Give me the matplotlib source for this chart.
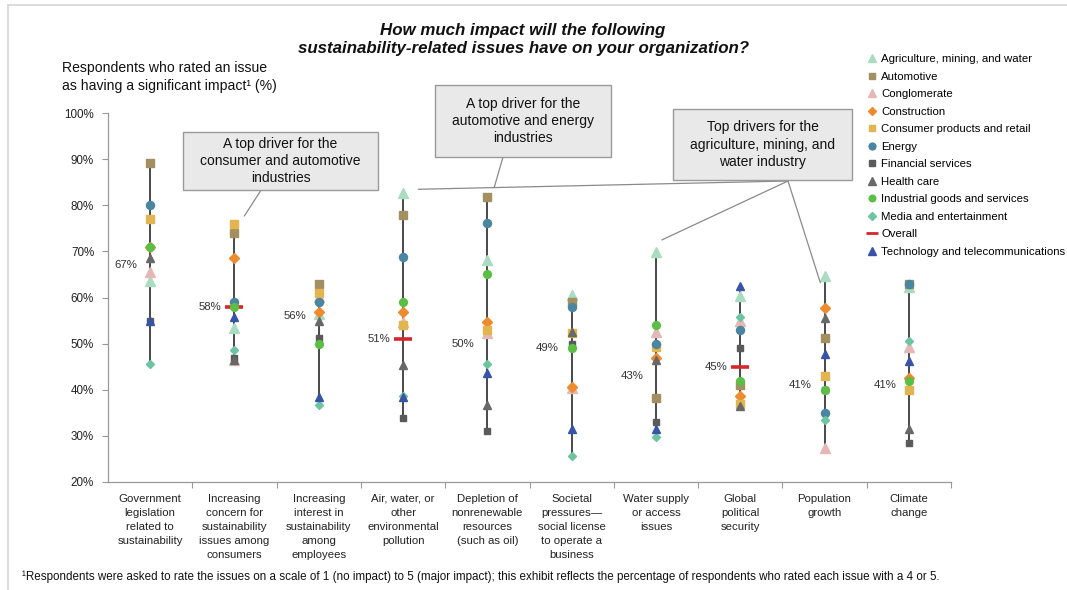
import matplotlib
matplotlib.use("Agg")
import matplotlib.pyplot as plt
from matplotlib.patches import Rectangle
from matplotlib.lines import Line2D
import numpy as np

plt.rcParams['font.family'] = ['Liberation Sans', 'DejaVu Sans']

# ---- data -------------------------------------------------------------
categories = [
    "Government\nlegislation\nrelated to\nsustainability",
    "Increasing\nconcern for\nsustainability\nissues among\nconsumers",
    "Increasing\ninterest in\nsustainability\namong\nemployees",
    "Air, water, or\nother\nenvironmental\npollution",
    "Depletion of\nnonrenewable\nresources\n(such as oil)",
    "Societal\npressures\u2014\nsocial license\nto operate a\nbusiness",
    "Water supply\nor access\nissues",
    "Global\npolitical\nsecurity",
    "Population\ngrowth",
    "Climate\nchange",
]

agriculture = [63.6, 53.3, 56.4, 82.7, 68.2, 60.6, 69.9, 60.4, 64.6, 62.3]
automotive = [89.1, 74.1, 63.0, 78.0, 81.9, 59.0, 38.2, 41.0, 51.1, 63.0]
conglomerate = [65.5, 46.4, 60.2, 54.6, 52.3, 40.3, 52.4, 55.0, 27.4, 49.2]
construction = [71.0, 68.5, 56.8, 56.8, 54.6, 40.6, 46.8, 38.7, 57.8, 42.6]
consumer = [77.1, 76.0, 60.9, 54.1, 53.0, 52.2, 49.2, 36.8, 42.9, 39.9]
energy = [80.0, 59.0, 59.0, 68.9, 76.1, 58.0, 49.9, 53.0, 35.0, 63.0]
financial = [54.8, 46.9, 51.1, 33.8, 31.0, 49.9, 33.0, 49.0, 39.9, 28.3]
health_care = [68.6, 46.4, 54.8, 45.4, 36.6, 52.4, 46.4, 36.5, 55.6, 31.4]
industrial = [71.0, 57.9, 49.9, 59.0, 65.0, 49.0, 54.0, 41.9, 39.9, 41.9]
media = [45.6, 48.7, 36.6, 38.6, 45.6, 25.6, 29.6, 55.7, 33.4, 50.6]
technology = [54.8, 55.7, 38.4, 38.4, 43.5, 31.4, 31.4, 62.6, 47.7, 46.3]
overall = [67, 58, 56, 51, 50, 49, 43, 45, 41, 41]
overall_marked = [False, True, False, True, False, False, False, True, False, False]

series_names = [
    "Agriculture, mining, and water", "Automotive", "Conglomerate",
    "Construction", "Consumer products and retail", "Energy",
    "Financial services", "Health care", "Industrial goods and services",
    "Media and entertainment", "Technology and telecommunications",
]
series_values = [agriculture, automotive, conglomerate, construction,
                 consumer, energy, financial, health_care, industrial,
                 media, technology]

y_ticks = [20, 30, 40, 50, 60, 70, 80, 90, 100]
y_ticklabels = [f"{v}%" for v in y_ticks]

# ---- styles -----------------------------------------------------------
styles = {
    "Agriculture, mining, and water": dict(marker="^", color="#A9DCC0", ms=6.5),
    "Automotive": dict(marker="s", color="#A38F5F", ms=5.2),
    "Conglomerate": dict(marker="^", color="#E5B8B5", ms=6.5),
    "Construction": dict(marker="D", color="#EE8B2C", ms=4.6),
    "Consumer products and retail": dict(marker="s", color="#E3B550", ms=5.2),
    "Energy": dict(marker="o", color="#4A86A0", ms=5.8),
    "Financial services": dict(marker="s", color="#5A5A5A", ms=5.0),
    "Health care": dict(marker="^", color="#686868", ms=6.0),
    "Industrial goods and services": dict(marker="o", color="#5BBE45", ms=5.6),
    "Media and entertainment": dict(marker="D", color="#6CC4A1", ms=4.4),
    "Technology and telecommunications": dict(marker="^", color="#3754A8", ms=6.0),
}
overall_color = "#D7262B"

W, H = 1067, 590
fig = plt.figure(figsize=(W / 100, H / 100), dpi=100)
fig.patch.set_facecolor("white")

ax_l, ax_r, ax_b, ax_t = 108, 951, 481.7, 113.3
ax = fig.add_axes([ax_l / W, 1 - ax_b / H, (ax_r - ax_l) / W, (ax_b - ax_t) / H])

n = len(categories)
x = np.arange(n)
vals = np.array(series_values)

# vertical range lines
for i in range(n):
    ax.plot([x[i], x[i]], [vals[:, i].min(), vals[:, i].max()],
            color="#3a3a3a", lw=1.3, zorder=1, solid_capstyle="butt")

# overall marks (drawn beneath industry markers)
for i in range(n):
    if overall_marked[i]:
        ax.plot(x[i], overall[i], marker="_", ms=13, mew=2.6,
                color=overall_color, zorder=2, linestyle="none")
    ax.text(x[i] - 0.15, overall[i], f"{overall[i]}%", ha="right",
            va="center", fontsize=8.2, color="#333333")

# industry markers
for k, (name, v) in enumerate(zip(series_names, series_values)):
    st = styles[name]
    ax.plot(x, v, linestyle="none", marker=st["marker"], ms=st["ms"],
            color=st["color"], mec=st["color"], zorder=3 + k)

ax.set_xlim(-0.5, n - 0.5)
ax.set_ylim(20, 100)
ax.set_yticks(y_ticks)
ax.set_yticklabels(y_ticklabels, fontsize=8.4, color="#222222")
ax.set_xticks(x)
ax.set_xticklabels(categories, fontsize=8.2, color="#222222", linespacing=1.5,
                   va="top")
ax.set_xticks(np.arange(n) + 0.5, minor=True)
ax.tick_params(axis="x", which="major", length=0, pad=8.5)
ax.tick_params(axis="x", which="minor", length=4, width=0.8, color="#999999")
ax.tick_params(axis="y", length=4, width=0.8, color="#999999", pad=6)
for s in ["top", "right"]:
    ax.spines[s].set_visible(False)
for s in ["left", "bottom"]:
    ax.spines[s].set_color("#999999")
    ax.spines[s].set_linewidth(0.9)

# ---- text -------------------------------------------------------------
def fx(px):
    return px / W


def fy(py):
    return 1 - py / H


fig.text(fx(523), fy(30), "How much impact will the following",
         ha="center", va="center", fontsize=12.2, fontweight="bold",
         fontstyle="italic", color="#111111")
fig.text(fx(523), fy(48), "sustainability-related issues have on your organization?",
         ha="center", va="center", fontsize=12.2, fontweight="bold",
         fontstyle="italic", color="#111111")
fig.text(fx(62), fy(68), "Respondents who rated an issue",
         ha="left", va="center", fontsize=10.1, color="#111111")
fig.text(fx(62), fy(86), "as having a significant impact\u00b9 (%)",
         ha="left", va="center", fontsize=10.1, color="#111111")
fig.text(fx(22), fy(577),
         "\u00b9Respondents were asked to rate the issues on a scale of 1 (no impact) "
         "to 5 (major impact); this exhibit reflects the percentage of respondents "
         "who rated each issue with a 4 or 5.",
         ha="left", va="center", fontsize=8.4, color="#111111")

# ---- callout boxes ----------------------------------------------------
boxes = [
    ((183, 132, 378, 190), "A top driver for the\nconsumer and automotive\nindustries"),
    ((435, 85, 611, 157), "A top driver for the\nautomotive and energy\nindustries"),
    ((673, 109, 852, 180), "Top drivers for the\nagriculture, mining, and\nwater industry"),
]
for (x0, y0, x1, y1), txt in boxes:
    fig.patches.append(Rectangle((fx(x0), fy(y1)), fx(x1) - fx(x0), fy(y0) - fy(y1),
                                 transform=fig.transFigure, facecolor="#E9E9E9",
                                 edgecolor="#9A9A9A", lw=1.0, zorder=5))
    fig.text(fx((x0 + x1) / 2), fy((y0 + y1) / 2), txt, ha="center",
             va="center", fontsize=10, color="#111111", linespacing=1.3,
             zorder=6)

# leader lines: (start on box in figure pixels) -> (data point)
leaders = [
    ((260.7, 190.7), (1.117, 77.7)),
    ((503, 157), (4.08, 83.8)),
    ((788, 181), (3.18, 83.5)),
    ((788, 181), (6.07, 72.5)),
    ((788, 181), (7.95, 63.2)),
]
for (sx, sy), (dx, dy) in leaders:
    ax.annotate("", xy=(dx, dy), xycoords="data",
                xytext=(fx(sx), fy(sy)), textcoords="figure fraction",
                arrowprops=dict(arrowstyle="-", color="#8A8A8A", lw=0.9,
                                shrinkA=0, shrinkB=0),
                annotation_clip=False)

# ---- legend -----------------------------------------------------------
handles = []
labels = []
legend_order = series_names[:10] + ["Overall"] + series_names[10:]
for name in legend_order:
    if name == "Overall":
        h = Line2D([], [], linestyle="none", marker="_", ms=8, mew=2,
                   color=overall_color)
    else:
        st = styles[name]
        h = Line2D([], [], linestyle="none", marker=st["marker"],
                   ms=st["ms"] * 0.85, color=st["color"])
    handles.append(h)
    labels.append(name)
fig.legend(handles, labels, loc="upper left",
           bbox_to_anchor=(fx(868), fy(54)), frameon=False, fontsize=8.2,
           handlelength=0.7, handletextpad=0.45, labelspacing=0.66,
           borderaxespad=0, borderpad=0)

# outer frame (top and left edges)
fig.lines.append(Line2D([fx(8), fx(8)], [0, fy(5)], transform=fig.transFigure,
                        color="#D5D5D5", lw=1.2))
fig.lines.append(Line2D([fx(8), 1], [fy(5), fy(5)], transform=fig.transFigure,
                        color="#D5D5D5", lw=1.2))

fig.savefig("out.png", dpi=100, facecolor="white")
